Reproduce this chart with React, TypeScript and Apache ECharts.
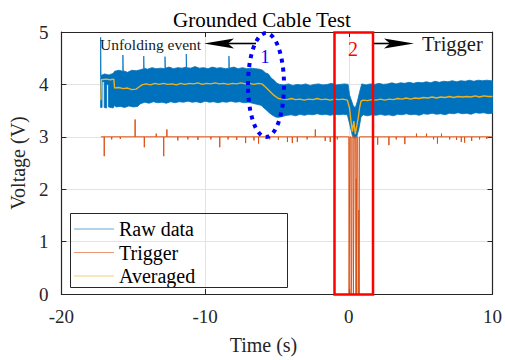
import React, { useEffect, useRef } from "react";
import * as echarts from "echarts";

// ---------- data ----------
const xTicks = [-20, -10, 0, 10];
const yTicks = [0, 1, 2, 3, 4, 5];

// upper envelope of the raw-data band (time s, volts)
const rawUpper: number[][] = [
  [-17.27, 4.15], [-17.27, 4.9], [-17.25, 4.17], [-17.0, 4.2], [-16.7, 4.18], [-16.4, 4.21], [-16.3, 4.25],
  [-16.0, 4.27], [-15.72, 4.25], [-15.72, 4.56], [-15.7, 4.26], [-15.4, 4.23], [-15.1, 4.27], [-14.8, 4.26],
  [-14.5, 4.28], [-14.27, 4.3], [-14.27, 4.54], [-14.25, 4.31], [-14.0, 4.29], [-13.7, 4.32], [-13.4, 4.3],
  [-13.1, 4.31], [-12.79, 4.3], [-12.79, 4.53], [-12.77, 4.31], [-12.5, 4.33], [-12.2, 4.3], [-11.9, 4.32],
  [-11.6, 4.31], [-11.31, 4.33], [-11.31, 4.58], [-11.29, 4.32], [-11.0, 4.31], [-10.7, 4.34], [-10.4, 4.31],
  [-10.1, 4.32], [-9.8, 4.3], [-9.5, 4.33], [-9.2, 4.31], [-8.9, 4.32], [-8.6, 4.3], [-8.34, 4.31],
  [-8.34, 4.54], [-8.32, 4.31], [-8.0, 4.33], [-7.7, 4.3], [-7.4, 4.32], [-7.1, 4.3], [-6.8, 4.31],
  [-6.5, 4.3], [-6.2, 4.29], [-6.0, 4.27], [-5.8, 4.22], [-5.6, 4.2], [-5.4, 4.12], [-5.2, 4.08],
  [-5.0, 4.02], [-4.8, 4.0], [-4.5, 3.99], [-4.2, 4.01], [-3.9, 3.98], [-3.6, 4.0], [-3.3, 3.99],
  [-3.0, 4.01], [-2.7, 3.98], [-2.4, 4.0], [-2.1, 4.01], [-1.8, 3.99], [-1.5, 4.0], [-1.2, 4.02],
  [-0.9, 3.99], [-0.6, 4.0], [-0.3, 4.01], [-0.05, 4.0], [0.05, 3.8], [0.15, 3.72], [0.3, 3.6],
  [0.45, 3.55], [0.6, 3.68], [0.75, 3.85], [0.9, 4.01], [1.2, 3.99], [1.5, 4.01], [1.8, 4.0],
  [2.1, 4.02], [2.4, 4.0], [2.7, 4.01], [3.0, 4.03], [3.3, 4.01], [3.6, 4.03], [3.9, 4.02],
  [4.2, 4.04], [4.5, 4.02], [4.8, 4.04], [5.1, 4.03], [5.4, 4.05], [5.7, 4.03], [6.0, 4.06],
  [6.3, 4.04], [6.6, 4.06], [6.9, 4.05], [7.2, 4.07], [7.5, 4.05], [7.8, 4.07], [8.1, 4.06],
  [8.4, 4.08], [8.7, 4.06], [9.0, 4.08], [9.3, 4.07], [9.6, 4.08], [9.9, 4.07], [10.0, 4.07],
];

// lower envelope of the raw-data band (with the white slits of the first segment)
const rawLower: number[][] = [
  [-17.27, 3.56], [-17.17, 3.56], [-17.17, 4.05], [-17.02, 4.05], [-17.02, 3.56], [-16.85, 3.55],
  [-16.85, 4.0], [-16.72, 4.0], [-16.72, 3.57], [-16.4, 3.55], [-16.3, 3.6], [-16.2, 3.57], [-15.9, 3.58],
  [-15.6, 3.56], [-15.3, 3.59], [-15.0, 3.57], [-14.7, 3.58], [-14.5, 3.63], [-14.2, 3.66], [-13.9, 3.64],
  [-13.6, 3.67], [-13.3, 3.65], [-13.0, 3.66], [-12.7, 3.64], [-12.4, 3.67], [-12.1, 3.65], [-11.8, 3.67],
  [-11.5, 3.66], [-11.2, 3.68], [-10.9, 3.66], [-10.6, 3.67], [-10.3, 3.65], [-10.0, 3.68], [-9.7, 3.66],
  [-9.4, 3.67], [-9.1, 3.65], [-8.8, 3.67], [-8.5, 3.66], [-8.2, 3.68], [-7.9, 3.66], [-7.6, 3.67],
  [-7.3, 3.65], [-7.0, 3.66], [-6.7, 3.64], [-6.4, 3.62], [-6.1, 3.6], [-5.9, 3.55], [-5.7, 3.5],
  [-5.5, 3.45], [-5.3, 3.41], [-5.1, 3.38], [-4.9, 3.37], [-4.6, 3.39], [-4.3, 3.41], [-4.0, 3.42],
  [-3.7, 3.4], [-3.4, 3.43], [-3.1, 3.41], [-2.8, 3.43], [-2.5, 3.42], [-2.2, 3.44], [-1.9, 3.42],
  [-1.6, 3.43], [-1.3, 3.41], [-1.0, 3.43], [-0.7, 3.42], [-0.4, 3.43], [-0.1, 3.42], [0.1, 3.2],
  [0.25, 3.02], [0.4, 2.97], [0.55, 3.0], [0.7, 3.15], [0.85, 3.38], [1.0, 3.42], [1.3, 3.4],
  [1.6, 3.42], [1.9, 3.41], [2.2, 3.43], [2.5, 3.41], [2.8, 3.42], [3.1, 3.4], [3.4, 3.43],
  [3.7, 3.42], [4.0, 3.44], [4.3, 3.42], [4.6, 3.43], [4.9, 3.41], [5.2, 3.44], [5.5, 3.43],
  [5.8, 3.45], [6.1, 3.43], [6.4, 3.44], [6.7, 3.42], [7.0, 3.45], [7.3, 3.44], [7.6, 3.46],
  [7.9, 3.44], [8.2, 3.45], [8.5, 3.43], [8.8, 3.46], [9.1, 3.45], [9.4, 3.46], [9.7, 3.44], [10.0, 3.45],
];

// averaged signal
const averaged: number[][] = [
  [-17.25, 3.7], [-17.22, 4.09], [-16.9, 4.1], [-16.6, 4.09], [-16.35, 4.1], [-16.3, 3.93], [-16.0, 3.94],
  [-15.7, 3.92], [-15.4, 3.93], [-15.1, 3.9], [-14.8, 3.91], [-14.6, 3.95], [-14.4, 3.99], [-14.1, 4.01],
  [-13.8, 3.99], [-13.5, 4.02], [-13.2, 4.0], [-12.9, 4.02], [-12.6, 4.0], [-12.3, 4.01], [-12.0, 3.99],
  [-11.7, 4.02], [-11.4, 4.0], [-11.1, 4.02], [-10.8, 4.01], [-10.5, 4.03], [-10.2, 4.0], [-9.9, 4.02],
  [-9.6, 4.01], [-9.3, 4.03], [-9.0, 4.01], [-8.7, 4.02], [-8.4, 4.0], [-8.1, 4.02], [-7.8, 4.01],
  [-7.5, 4.03], [-7.2, 4.01], [-6.9, 4.02], [-6.6, 4.0], [-6.3, 4.02], [-6.05, 4.01], [-5.8, 3.95],
  [-5.5, 3.87], [-5.2, 3.79], [-4.9, 3.73], [-4.6, 3.72], [-4.3, 3.71], [-4.0, 3.73], [-3.7, 3.71],
  [-3.4, 3.72], [-3.1, 3.7], [-2.8, 3.72], [-2.5, 3.71], [-2.2, 3.73], [-1.9, 3.71], [-1.6, 3.72],
  [-1.3, 3.7], [-1.0, 3.72], [-0.7, 3.71], [-0.4, 3.72], [-0.1, 3.7], [0.05, 3.55], [0.15, 3.3],
  [0.25, 3.1], [0.35, 3.3], [0.45, 3.05], [0.55, 3.2], [0.65, 3.35], [0.75, 3.55], [0.85, 3.68],
  [1.0, 3.7], [1.3, 3.69], [1.6, 3.71], [1.9, 3.7], [2.2, 3.72], [2.5, 3.7], [2.8, 3.72], [3.1, 3.71],
  [3.4, 3.73], [3.7, 3.72], [4.0, 3.74], [4.3, 3.72], [4.6, 3.74], [4.9, 3.73], [5.2, 3.75], [5.5, 3.74],
  [5.8, 3.76], [6.1, 3.74], [6.4, 3.76], [6.7, 3.75], [7.0, 3.77], [7.3, 3.75], [7.6, 3.77], [7.9, 3.76],
  [8.2, 3.77], [8.5, 3.76], [8.8, 3.78], [9.1, 3.76], [9.4, 3.78], [9.7, 3.77], [10.0, 3.77],
];

// trigger: baseline level, start/end, single-sample spikes and the burst near t = 0
const triggerLevel = 3.0;
const triggerStart = -17.25;
const triggerEnd = 10.0;
const triggerSpikes: number[][] = [
  [-17.02, 2.63], [-16.5, 2.95], [-15.9, 2.96], [-14.87, 3.33], [-14.23, 2.8], [-13.4, 3.06], [-12.88, 2.63],
  [-12.66, 3.14], [-11.9, 2.93], [-11.2, 2.95], [-10.5, 2.94], [-9.6, 2.95], [-8.98, 2.8], [-8.4, 2.95],
  [-7.8, 2.94], [-7.18, 2.88], [-6.6, 2.93], [-6.28, 2.87], [-5.5, 2.95], [-4.9, 2.94], [-4.27, 2.9],
  [-3.93, 2.88], [-3.58, 2.9], [-2.9, 2.95], [-2.33, 3.14], [-1.64, 2.92], [-1.29, 2.9], [-0.8, 2.95],
  [2.01, 2.85], [2.79, 2.84], [3.3, 2.95], [3.9, 2.86], [4.71, 3.06], [5.41, 3.06], [5.9, 2.95],
  [6.17, 2.87], [6.45, 3.06], [7.02, 2.95], [7.5, 2.94], [7.83, 2.9], [8.06, 2.89], [8.55, 2.92],
  [9.1, 2.95], [9.6, 2.96],
];
const triggerBurst: number[][] = [
  [0.0, 3.0], [0.02, 0.0], [0.05, 0.0], [0.07, 3.0], [0.14, 3.0], [0.16, 0.0], [0.2, 0.4], [0.22, 3.0],
  [0.3, 3.0], [0.32, 0.0], [0.36, 0.0], [0.38, 3.0], [0.48, 3.0], [0.5, 0.0], [0.52, 2.2], [0.54, 0.0],
  [0.56, 3.0], [0.62, 3.0], [0.66, 0.0], [0.7, 1.6], [0.72, 0.0], [0.74, 3.0],
];

const seriesNames = ["Raw data", "Trigger", "Averaged"];
const seriesColors = ["#0072BD", "#D95319", "#EDB120"];

// ---------- chart ----------
const FONT = "'Liberation Serif', 'Times New Roman', serif";

function buildTrigger(): number[][] {
  const pts: number[][] = [[triggerStart, triggerLevel]];
  triggerSpikes.forEach(([t, v]) => {
    pts.push([t, triggerLevel], [t, v], [t, triggerLevel]);
  });
  triggerBurst.forEach((p) => pts.push(p));
  pts.push([triggerEnd, triggerLevel]);
  return pts.sort((a, b) => a[0] - b[0]);
}

export default function App() {
  const ref = useRef<HTMLDivElement>(null);
  useEffect(() => {
    if (!ref.current) return;
    const chart = echarts.init(ref.current, null, { renderer: "svg" });
    const axisColor = "#262626";
    const gridColor = "#e3e3e3";

    const arrowLeft = (tipX: number, y: number) => [
      [tipX, y], [tipX + 30, y - 5], [tipX + 24, y], [tipX + 30, y + 5],
    ];
    const arrowRight = (tipX: number, y: number) => [
      [tipX, y], [tipX - 30, y - 5], [tipX - 24, y], [tipX - 30, y + 5],
    ];

    chart.setOption({
      animation: false,
      backgroundColor: "#ffffff",
      title: {
        text: "Grounded Cable Test",
        left: 168,
        top: 4,
        textStyle: { fontFamily: FONT, fontSize: 21, fontWeight: "normal", color: "#000" },
      },
      grid: { left: 60, right: 12, top: 32, bottom: 65 },
      legend: {
        left: 72,
        top: 214,
        orient: "vertical",
        padding: [5, 4, 5, 2],
        itemGap: 3.5,
        itemWidth: 40,
        itemHeight: 1,
        textStyle: { fontFamily: FONT, fontSize: 20, color: "#000" },
        data: seriesNames.map((n, i) => ({
          name: n,
          icon: "rect",
          itemStyle: { color: seriesColors[i], opacity: 0.6 },
        })),
      },
      xAxis: [
        {
          type: "value",
          min: xTicks[0],
          max: xTicks[xTicks.length - 1],
          interval: xTicks[1] - xTicks[0],
          position: "bottom",
          name: "Time (s)",
          nameLocation: "middle",
          nameGap: 41,
          nameTextStyle: { fontFamily: FONT, fontSize: 20, color: axisColor, padding: [0, 27, 0, 0] },
          axisLine: { show: true, onZero: false, lineStyle: { color: axisColor, width: 1.2 } },
          axisTick: { show: true, inside: true, length: 5, lineStyle: { color: axisColor } },
          axisLabel: { fontFamily: FONT, fontSize: 19, color: axisColor, margin: 13 },
          splitLine: { show: true, lineStyle: { color: gridColor, width: 1 } },
        },
        {
          type: "value",
          min: xTicks[0],
          max: xTicks[xTicks.length - 1],
          interval: xTicks[1] - xTicks[0],
          position: "top",
          axisLine: { show: true, onZero: false, lineStyle: { color: axisColor, width: 1.2 } },
          axisTick: { show: true, inside: true, length: 5, lineStyle: { color: axisColor } },
          axisLabel: { show: false },
          splitLine: { show: false },
        },
      ],
      yAxis: [
        {
          type: "value",
          min: yTicks[0],
          max: yTicks[yTicks.length - 1],
          interval: yTicks[1] - yTicks[0],
          position: "left",
          name: "Voltage (V)",
          nameLocation: "middle",
          nameRotate: 90,
          nameGap: 22,
          nameTextStyle: { fontFamily: FONT, fontSize: 20, color: axisColor },
          axisLine: { show: true, onZero: false, lineStyle: { color: axisColor, width: 1.2 } },
          axisTick: { show: true, inside: true, length: 5, lineStyle: { color: axisColor } },
          axisLabel: { fontFamily: FONT, fontSize: 19, color: axisColor, margin: 13 },
          splitLine: { show: true, lineStyle: { color: gridColor, width: 1 } },
        },
        {
          type: "value",
          min: yTicks[0],
          max: yTicks[yTicks.length - 1],
          interval: yTicks[1] - yTicks[0],
          position: "right",
          axisLine: { show: true, onZero: false, lineStyle: { color: axisColor, width: 1.2 } },
          axisTick: { show: true, inside: true, length: 5, lineStyle: { color: axisColor } },
          axisLabel: { show: false },
          splitLine: { show: false },
        },
      ],
      series: [
        {
          name: seriesNames[0],
          type: "custom",
          xAxisIndex: 0,
          yAxisIndex: 0,
          itemStyle: { color: seriesColors[0] },
          data: [[rawUpper[0][0], rawUpper[0][1]]],
          encode: { x: 0, y: 1 },
          z: 2,
          renderItem: (_params: any, api: any) => {
            const pts = rawUpper
              .map((p) => api.coord(p))
              .concat(rawLower.slice().reverse().map((p) => api.coord(p)));
            return {
              type: "polygon",
              shape: { points: pts },
              style: { fill: seriesColors[0], stroke: seriesColors[0], lineWidth: 0.8 },
            };
          },
        },
        {
          name: seriesNames[1],
          type: "line",
          data: buildTrigger(),
          symbol: "none",
          z: 3,
          lineStyle: { color: seriesColors[1], width: 1 },
          itemStyle: { color: seriesColors[1] },
        },
        {
          name: seriesNames[2],
          type: "line",
          data: averaged,
          symbol: "none",
          z: 4,
          lineStyle: { color: seriesColors[2], width: 1.4 },
          itemStyle: { color: seriesColors[2] },
        },
      ],
      graphic: [
        // legend frame (transparent, as in the reference)
        {
          type: "rect",
          z: 100,
          shape: { x: 70.5, y: 213.5, width: 217, height: 74 },
          style: { fill: "none", stroke: axisColor, lineWidth: 1 },
        },
        // annotation 1: unfolding event
        {
          type: "ellipse",
          z: 100,
          shape: { cx: 266, cy: 85, rx: 18, ry: 52 },
          style: { fill: "none", stroke: "#0000FF", lineWidth: 4, lineDash: [4, 5] },
        },
        {
          type: "text",
          z: 100,
          x: 265,
          y: 57,
          style: { text: "1", fill: "#0000FF", font: `18px ${FONT}`, align: "center", verticalAlign: "middle" },
        },
        {
          type: "text",
          z: 100,
          x: 100,
          y: 44,
          style: { text: "Unfolding event", fill: "#1a1a1a", font: `15.5px ${FONT}`, align: "left", verticalAlign: "middle" },
        },
        {
          type: "line",
          z: 100,
          shape: { x1: 225, y1: 43.5, x2: 256, y2: 43.5 },
          style: { stroke: "#000", lineWidth: 1.6 },
        },
        {
          type: "polygon",
          z: 100,
          shape: { points: arrowLeft(204, 43.5) },
          style: { fill: "#000" },
        },
        // annotation 2: trigger
        {
          type: "rect",
          z: 100,
          shape: { x: 334.5, y: 32.5, width: 38.5, height: 262 },
          style: { fill: "none", stroke: "#FF0000", lineWidth: 2.5 },
        },
        {
          type: "text",
          z: 100,
          x: 353,
          y: 49,
          style: { text: "2", fill: "#FF0000", font: `20px ${FONT}`, align: "center", verticalAlign: "middle" },
        },
        {
          type: "line",
          z: 100,
          shape: { x1: 374, y1: 43.5, x2: 395, y2: 43.5 },
          style: { stroke: "#000", lineWidth: 1.6 },
        },
        {
          type: "polygon",
          z: 100,
          shape: { points: arrowRight(414, 43.5) },
          style: { fill: "#000" },
        },
        {
          type: "text",
          z: 100,
          x: 422,
          y: 44,
          style: { text: "Trigger", fill: "#1a1a1a", font: `20.5px ${FONT}`, align: "left", verticalAlign: "middle" },
        },
      ],
    });
    return () => chart.dispose();
  }, []);
  return <div ref={ref} style={{ width: 505, height: 360, position: "absolute", left: 0, top: 0 }} />;
}
